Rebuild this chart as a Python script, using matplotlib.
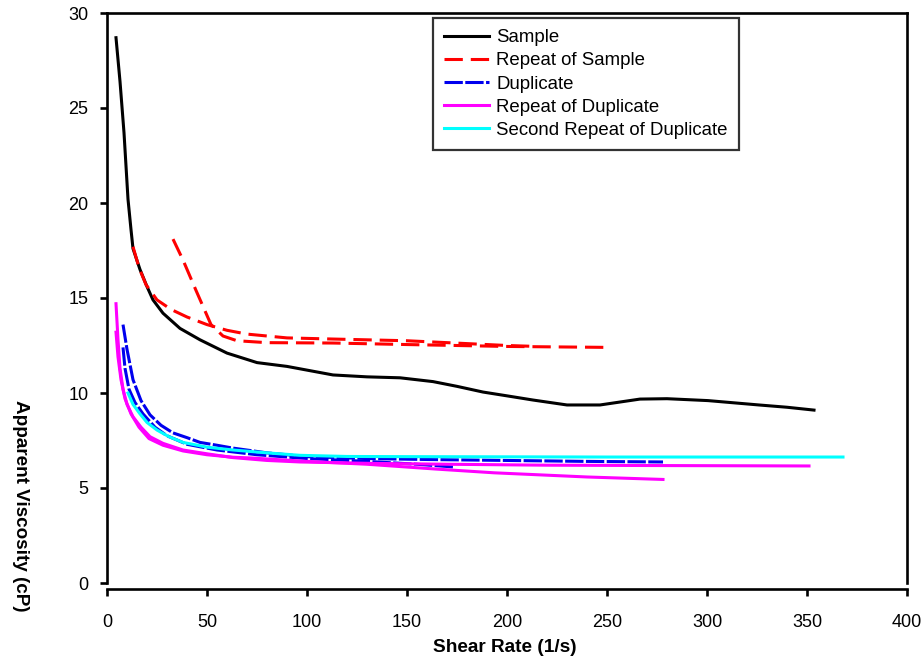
import matplotlib
matplotlib.use("Agg")
import matplotlib.pyplot as plt

plt.rcParams["font.family"] = ["Liberation Sans", "DejaVu Sans"]

# Sample (single ramp)
sample_x = [4.5, 6.5, 8.5, 10.5, 12, 13, 16.5, 20, 23, 28, 36.5, 46.5, 60, 75, 90,
            113, 130, 146.5, 163, 175, 188, 200, 213, 230, 246.5, 266.5, 280,
            300.5, 326, 340, 353.5]
sample_y = [28.7, 26.4, 23.7, 20.2, 18.6, 17.6, 16.5, 15.6, 14.9, 14.2, 13.4, 12.8,
            12.1, 11.6, 11.4, 10.95, 10.85, 10.8, 10.6, 10.35, 10.05, 9.85, 9.63,
            9.37, 9.37, 9.68, 9.7, 9.6, 9.37, 9.25, 9.1]

# Repeat of sample: up and down ramps
rep_up_x = [13, 16, 19.5, 25, 32, 40, 50, 60, 70, 90, 113, 150, 180, 200, 215]
rep_up_y = [17.7, 16.6, 15.7, 14.9, 14.4, 14.0, 13.6, 13.3, 13.1, 12.9, 12.84,
            12.75, 12.6, 12.5, 12.45]
rep_dn_x = [33, 38, 44.5, 52, 58, 65, 80, 113, 150, 200, 251]
rep_dn_y = [18.1, 17.0, 15.4, 13.6, 13.0, 12.75, 12.65, 12.63, 12.55, 12.45, 12.4]

# Duplicate
dup_a_x = [8, 10, 13, 17, 21.5, 27, 33, 40, 46.5, 55, 63, 80, 100, 130, 160, 200,
           240, 278]
dup_a_y = [13.6, 12.3, 10.7, 9.6, 8.85, 8.3, 7.9, 7.65, 7.4, 7.25, 7.1, 6.85, 6.65,
           6.55, 6.5, 6.45, 6.4, 6.37]
dup_b_x = [8, 9, 11, 14, 18, 24, 30, 40, 55, 75, 100, 130, 155, 174]
dup_b_y = [12.4, 11.3, 10.2, 9.5, 8.9, 8.2, 7.75, 7.3, 7.0, 6.75, 6.55, 6.4, 6.25, 6.1]

# Repeat of duplicate
rdup_a_x = [4.5, 5.5, 6.5, 8, 10, 13, 17, 21.5, 28, 38, 50, 63, 80, 96.5, 130, 170,
            220, 280, 351]
rdup_a_y = [14.7, 12.8, 11.3, 10.2, 9.4, 8.75, 8.2, 7.7, 7.35, 7.0, 6.8, 6.6, 6.45,
            6.37, 6.3, 6.25, 6.2, 6.18, 6.16]
rdup_b_x = [4.5, 5.5, 7, 9, 12, 16, 21, 28, 38, 50, 63, 72, 100, 130, 164, 193.5,
            240, 278]
rdup_b_y = [13.2, 11.9, 10.7, 9.7, 8.9, 8.2, 7.6, 7.25, 6.95, 6.75, 6.62, 6.58, 6.4,
            6.25, 6.0, 5.8, 5.58, 5.45]

# Second repeat of duplicate
srep_x = [10.5, 13, 16.5, 20, 25, 31, 38, 50, 63, 80, 96.5, 120, 150, 200, 250, 300,
          368]
srep_y = [10.0, 9.4, 8.9, 8.45, 8.05, 7.7, 7.4, 7.15, 7.0, 6.85, 6.72, 6.66, 6.65,
          6.64, 6.63, 6.63, 6.63]

x_ticks = [0, 50, 100, 150, 200, 250, 300, 350, 400]
y_ticks = [0, 5, 10, 15, 20, 25, 30]

LW = 2.2
RED_DASH = (0, (6, 2.6))
BLUE_DASH = (0, (6, 0.8))

fig = plt.figure(figsize=(9.23, 6.64), dpi=100)
ax = fig.add_axes([107 / 923, 81 / 664, 800 / 923, 570 / 664])

ax.plot(sample_x, sample_y, color="black", lw=LW, label="Sample")
ax.plot(rep_up_x, rep_up_y, color="red", lw=LW, ls=RED_DASH, label="Repeat of Sample")
ax.plot(rep_dn_x, rep_dn_y, color="red", lw=LW, ls=RED_DASH)
ax.plot(dup_a_x, dup_a_y, color="#0000ee", lw=LW, ls=BLUE_DASH, label="Duplicate")
ax.plot(dup_b_x, dup_b_y, color="#0000ee", lw=LW, ls=BLUE_DASH)
ax.plot(rdup_a_x, rdup_a_y, color="magenta", lw=LW, label="Repeat of Duplicate")
ax.plot(rdup_b_x, rdup_b_y, color="magenta", lw=LW)
ax.plot(srep_x, srep_y, color="cyan", lw=LW, label="Second Repeat of Duplicate")

ax.set_xlim(0, 400)
ax.set_ylim(0, 30)
ax.set_xticks(x_ticks)
ax.set_yticks(y_ticks)

# full frame, with the x axis line pushed a little below the box
for side in ["left", "right", "top", "bottom"]:
    ax.spines[side].set_linewidth(1.9)
ax.spines["bottom"].set_position(("outward", 4.3))

ax.tick_params(axis="both", direction="out", length=5, width=1.9, labelsize=13)
ax.tick_params(axis="y", pad=8.5)
ax.tick_params(axis="x", pad=13)

fig.text(505 / 923, 1 - 648 / 664, "Shear Rate (1/s)", ha="center", va="center",
         fontsize=13.7, fontweight="bold")
fig.text(20 / 923, 1 - 506 / 664, "Apparent Viscosity (cP)", ha="center",
         va="center", rotation=-90, fontsize=13.6, fontweight="bold")

leg = ax.legend(loc="upper left", bbox_to_anchor=((433 - 107) / 800, (583 - 18) / 570),
                borderaxespad=0, fontsize=13.4, frameon=True, fancybox=False,
                handlelength=2.4, handletextpad=0.4, labelspacing=0.33,
                borderpad=0.6)
leg.get_frame().set_edgecolor("black")
leg.get_frame().set_linewidth(1.6)

fig.savefig("out.png", dpi=100)
